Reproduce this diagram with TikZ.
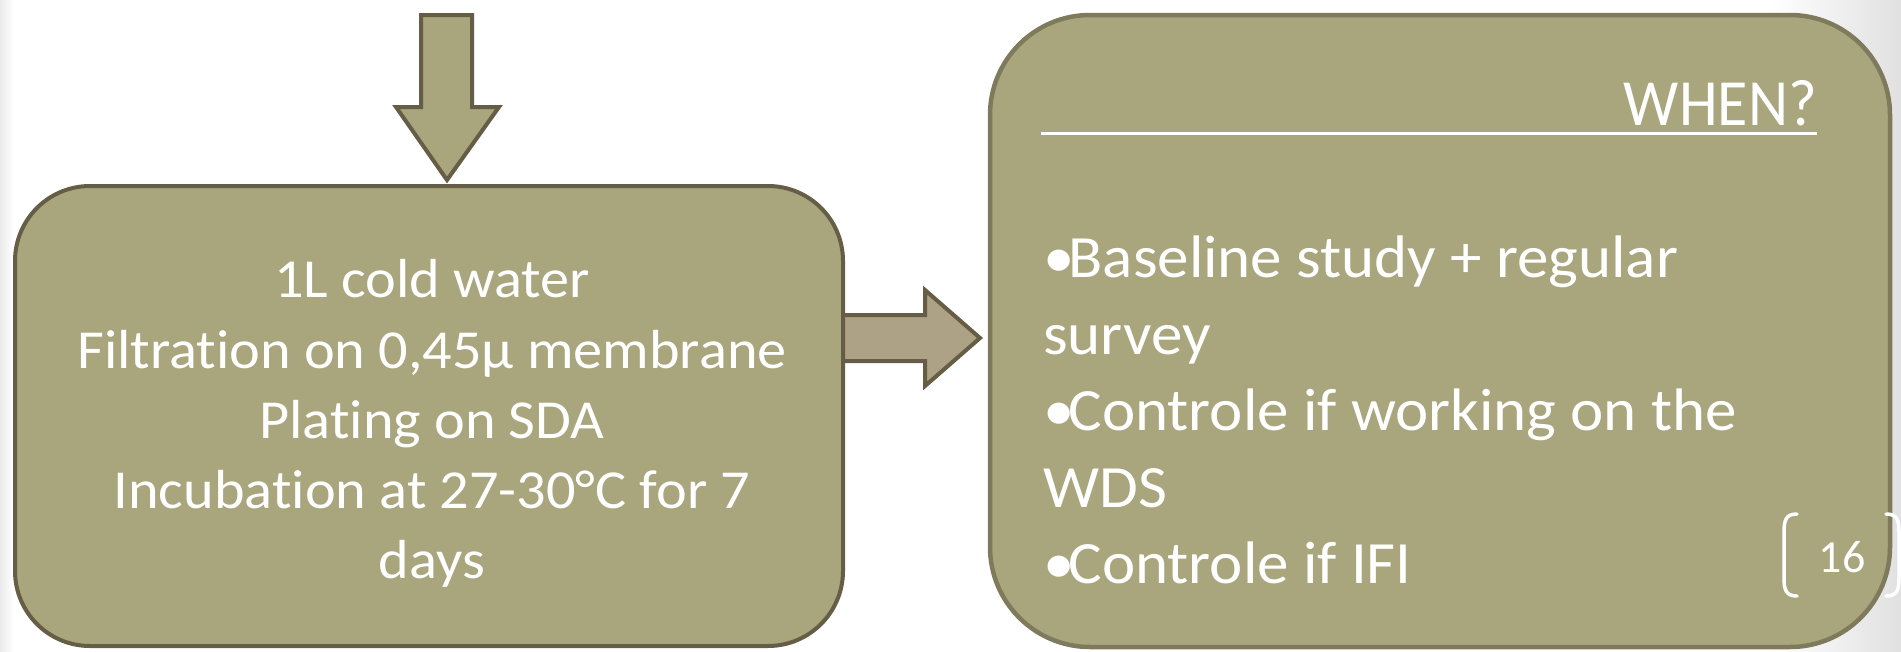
\documentclass[tikz,border=0pt]{standalone}
\usepackage{fontspec}
\setmainfont{Carlito}[Ligatures={NoCommon}]
\newfontfamily\leftfont{Carlito}[FakeStretch=1.06, Ligatures={NoCommon}]
\newfontfamily\rightfont{Carlito}[FakeStretch=1.05, Ligatures={NoCommon}]
\newfontfamily\whenfont{Carlito}[FakeStretch=0.94, Ligatures={NoCommon}]
\newcommand{\bul}{•\kern-6pt}
\definecolor{boxfill}{RGB}{169,165,125}
\definecolor{arrfill}{RGB}{173,162,133}
\definecolor{darkline}{RGB}{102,93,70}
\definecolor{softline}{RGB}{127,122,92}
\begin{document}
\begin{tikzpicture}[x=1pt,y=-1pt,
  box/.style={fill=boxfill, line width=4pt, inner sep=0pt},
  blockarrow/.style={draw=darkline, line width=4pt, miter limit=10},
  ltxt/.style={text=white, inner sep=0pt, font=\leftfont\fontsize{55}{60}\selectfont},
  rtxt/.style={text=white, inner sep=0pt, font=\rightfont\fontsize{60}{66}\selectfont},
  bracket/.style={draw=white, line width=3.5pt, line cap=round},
]
\useasboundingbox (0,0) rectangle (1901,651);
\fill[white] (0,0) rectangle (1901,651);
\shade[left color=black!8, right color=white] (0,0) rectangle (14,651);
\shade[left color=white, right color=black!12] (1770,0) rectangle (1901,651);

% right block arrow (behind the left box border)
\draw[blockarrow, fill=arrfill] (838,315) -- (925,315) -- (925,290) -- (980,338) -- (925,386) -- (925,361) -- (838,361);

% boxes
\node[box, draw=darkline, rounded corners=75pt, minimum width=828pt, minimum height=460pt] (proc) at (429,416) {};
\node[box, draw=softline, line width=4.5pt, rounded corners=100pt, minimum width=900pt, minimum height=632pt] (when) at (1440,331) {};

% down block arrow
\draw[blockarrow, fill=boxfill] (421,15) -- (472,15) -- (472,107) -- (499,107) -- (447,180) -- (396,107) -- (421,107) -- cycle;

% left box text
\node[ltxt, anchor=base] (l1) at (432,297) {1L cold water};
\node[ltxt, anchor=base] (l2) at (432,368) {Filtration on 0,45µ membrane};
\node[ltxt, anchor=base] (l3) at (432,438) {Plating on SDA};
\node[ltxt, anchor=base] (l4) at (432,508) {Incubation at 27-30°C for 7};
\node[ltxt, anchor=base] (l5) at (432,578) {days};

% right box text
\node[text=white, inner sep=0pt, anchor=base east, font=\whenfont\fontsize{66}{70}\selectfont] (q) at (1817,125) {WHEN?};
\coordinate (ul) at (1041,133);
\draw[white, line width=3pt] (ul) -- (ul -| q.east);

\node[rtxt, anchor=base west] (r1) at (1043,277) {\bul Baseline study + regular};
\node[rtxt, anchor=base west] (r2) at (1043,354) {survey};
\node[rtxt, anchor=base west] (r3) at (1043,430) {\bul Controle if working on the};
\node[rtxt, anchor=base west] (r4) at (1043,507) {WDS};
\node[rtxt, anchor=base west] (r5) at (1043,583) {\bul Controle if IFI};

% slide number
\node[text=white, inner sep=0pt, font=\fontsize{46}{50}\selectfont, anchor=base] (pg) at (1842,572) {16};
\draw[bracket] (1797,514) .. controls (1786,514) and (1784,520) .. (1784,532) -- (1784,578) .. controls (1784,590) and (1786,596) .. (1797,596);
\draw[bracket] (1886,514) .. controls (1897,514) and (1899,520) .. (1899,532) -- (1899,578) .. controls (1899,590) and (1897,596) .. (1886,596);
\end{tikzpicture}
\end{document}
